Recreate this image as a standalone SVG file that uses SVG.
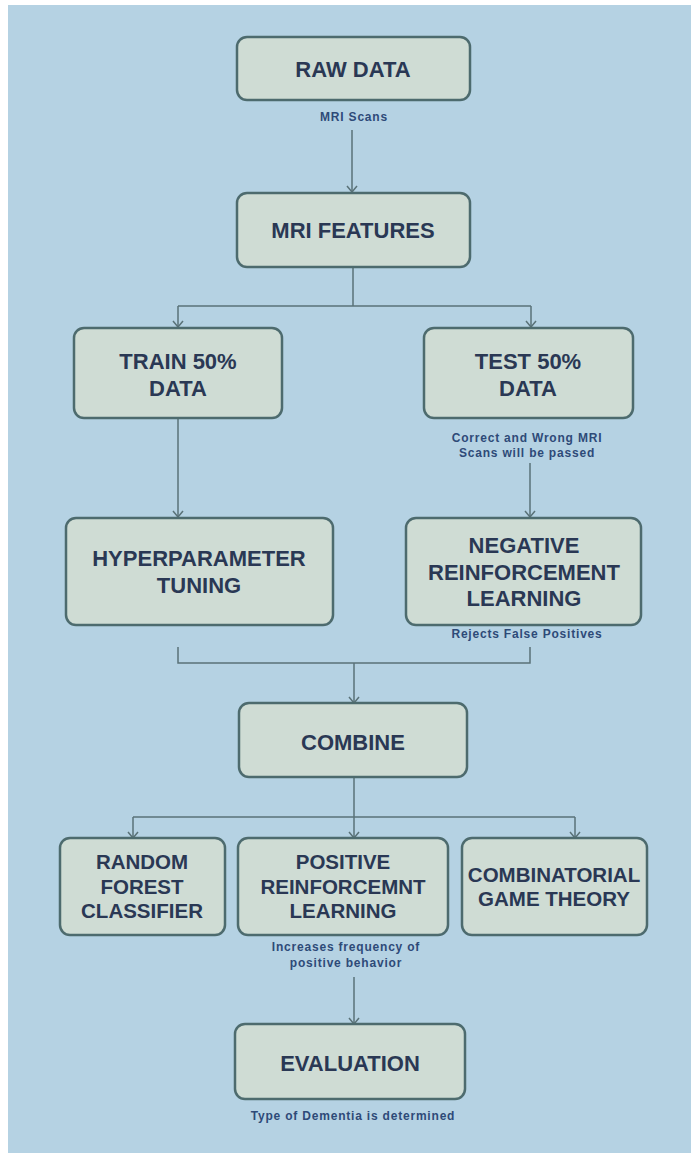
<svg xmlns="http://www.w3.org/2000/svg" width="691" height="1153" viewBox="0 0 691 1153">
<defs>
<style>
.box{fill:#cfdcd4;stroke:#4d6b6e;stroke-width:2.5}
.t{font-family:"Liberation Sans",Arial,sans-serif;font-weight:bold;font-size:22px;fill:#2a3854;text-anchor:middle}
.t2{font-family:"Liberation Sans",Arial,sans-serif;font-weight:bold;font-size:20.5px;fill:#2a3854;text-anchor:middle}
.s{font-family:"Liberation Sans",Arial,sans-serif;font-weight:bold;font-size:12px;fill:#2e4a78;text-anchor:middle;letter-spacing:0.8px}
.c{fill:none;stroke:#5a7278;stroke-width:1.5}
</style>
<marker id="ah" markerUnits="userSpaceOnUse" markerWidth="8" markerHeight="12" refX="7" refY="6" orient="auto" viewBox="0 0 8 12">
<path d="M1,1 L7,6 L1,11" fill="none" stroke="#5a7278" stroke-width="1.5"/>
</marker>
</defs>
<rect x="0" y="0" width="691" height="1153" fill="#ffffff"/>
<rect x="8" y="5" width="683" height="1148" fill="#b5d2e3"/>
<g id="connectors">
<path class="c" d="M352,130 V192" marker-end="url(#ah)"/>
<path class="c" d="M353,267 V306"/>
<path class="c" d="M178,306 H531"/>
<path class="c" d="M178,306 V327" marker-end="url(#ah)"/>
<path class="c" d="M531,306 V327" marker-end="url(#ah)"/>
<path class="c" d="M178,418 V517" marker-end="url(#ah)"/>
<path class="c" d="M530,463 V517" marker-end="url(#ah)"/>
<path class="c" d="M178,647 V663 H530 V647"/>
<path class="c" d="M354,663 V703" marker-end="url(#ah)"/>
<path class="c" d="M354,777 V817"/>
<path class="c" d="M133,817 H575"/>
<path class="c" d="M133,817 V838" marker-end="url(#ah)"/>
<path class="c" d="M354,817 V838" marker-end="url(#ah)"/>
<path class="c" d="M575,817 V838" marker-end="url(#ah)"/>
<path class="c" d="M354,977 V1024" marker-end="url(#ah)"/>
</g>
<g id="raw-data">
<rect class="box" x="237" y="37" width="233" height="63" rx="10"/>
<text class="t" x="353" y="77">RAW DATA</text>
<text class="s" x="354" y="121">MRI Scans</text>
</g>
<g id="mri-features">
<rect class="box" x="237" y="193" width="233" height="74" rx="10"/>
<text class="t" x="353" y="238">MRI FEATURES</text>
</g>
<g id="train">
<rect class="box" x="74" y="328" width="208" height="90" rx="10"/>
<text class="t" x="178" y="369">TRAIN 50%</text>
<text class="t" x="178" y="396">DATA</text>
</g>
<g id="test">
<rect class="box" x="424" y="328" width="209" height="90" rx="10"/>
<text class="t" x="528" y="369">TEST 50%</text>
<text class="t" x="528" y="396">DATA</text>
<text class="s" x="527" y="442">Correct and Wrong MRI</text>
<text class="s" x="527" y="457">Scans will be passed</text>
</g>
<g id="hyperparameter">
<rect class="box" x="66" y="518" width="267" height="107" rx="10"/>
<text class="t" x="199" y="566">HYPERPARAMETER</text>
<text class="t" x="199" y="593">TUNING</text>
</g>
<g id="negative">
<rect class="box" x="406" y="518" width="235" height="107" rx="10"/>
<text class="t" x="524" y="553">NEGATIVE</text>
<text class="t" x="524" y="580">REINFORCEMENT</text>
<text class="t" x="524" y="606">LEARNING</text>
<text class="s" x="527" y="638">Rejects False Positives</text>
</g>
<g id="combine">
<rect class="box" x="239" y="703" width="228" height="74" rx="10"/>
<text class="t" x="353" y="750">COMBINE</text>
</g>
<g id="random-forest">
<rect class="box" x="60" y="838" width="165" height="97" rx="10"/>
<text class="t2" x="142" y="869">RANDOM</text>
<text class="t2" x="142" y="894">FOREST</text>
<text class="t2" x="142" y="918">CLASSIFIER</text>
</g>
<g id="positive">
<rect class="box" x="238" y="838" width="210" height="97" rx="10"/>
<text class="t2" x="343" y="869">POSITIVE</text>
<text class="t2" x="343" y="894">REINFORCEMNT</text>
<text class="t2" x="343" y="918">LEARNING</text>
<text class="s" x="346" y="951">Increases frequency of</text>
<text class="s" x="346" y="967">positive behavior</text>
</g>
<g id="game-theory">
<rect class="box" x="462" y="838" width="185" height="97" rx="10"/>
<text class="t2" x="554" y="882">COMBINATORIAL</text>
<text class="t2" x="554" y="906">GAME THEORY</text>
</g>
<g id="evaluation">
<rect class="box" x="235" y="1024" width="230" height="75" rx="10"/>
<text class="t" x="350" y="1071">EVALUATION</text>
<text class="s" x="353" y="1120">Type of Dementia is determined</text>
</g>
</svg>
